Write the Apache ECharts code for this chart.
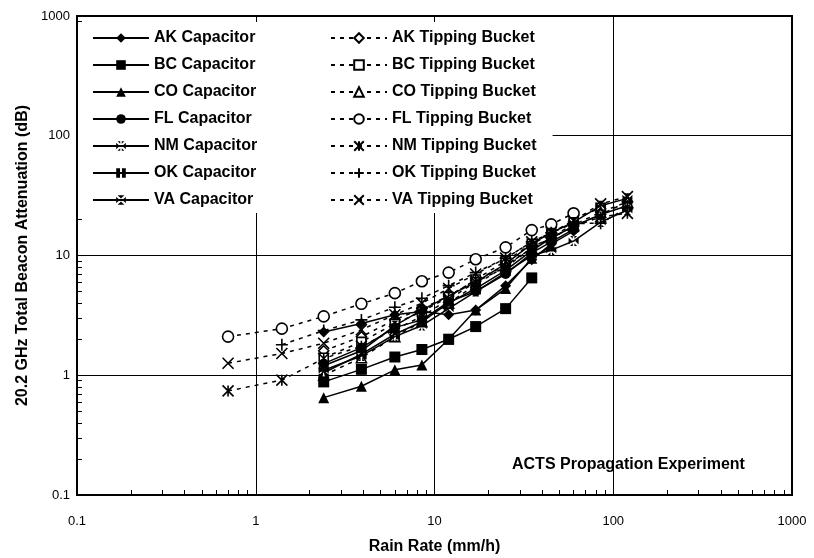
<!DOCTYPE html>
<html>
<head>
<meta charset="utf-8">
<script src="https://cdn.jsdelivr.net/npm/echarts@6/dist/echarts.min.js"></script>
<style>
  html, body { margin: 0; padding: 0; background: #fff; }
  #chart { width: 814px; height: 558px; }
</style>
</head>
<body>
<div id="chart"></div>
<script>
// rain rate bins (mm/h)
const rainRate = [0.7, 1.4, 2.4, 3.9, 6, 8.5, 12, 17, 25, 35, 45, 60, 85, 120];

// capacitor gauges (dB)
const akCap = [null, null, 2.3, 2.7, 3.2, 3.4, 3.2, 3.5, 5.6, 9.2, 12.5, 16, null, null];
const bcCap = [null, null, 0.88, 1.12, 1.42, 1.64, 2.0, 2.55, 3.6, 6.5, null, null, null, null];
const coCap = [null, null, 0.65, 0.81, 1.11, 1.22, 2.0, 3.5, 5.3, 9.5, 12, null, null, null];
const flCap = [null, null, 1.25, 1.7, 2.5, 2.9, 4.1, 5.0, 7.0, 10.5, 13, 16.5, null, null];
const nmCap = [null, null, 1.1, 1.45, 2.1, 2.6, 3.6, 5.0, 7.2, 10, 11.1, 13.2, 19, 24];
const okCap = [null, null, 1.05, 1.5, 2.2, 2.8, 4.0, 5.3, 7.5, 11, 14, 17.5, 22, 26];
const vaCap = [null, null, 1.2, 1.6, 2.6, 3.5, 4.6, 6.0, 8.5, 12.5, 15.5, 19, 26, 30];

// tipping bucket gauges (dB)
const akTb = [null, null, 1.6, 2.1, 2.9, 3.6, 4.6, 6.2, 8.3, 11.5, 14, 17.5, 22, 28];
const bcTb = [null, null, 1.4, 1.9, 2.7, 3.4, 4.5, 6.3, 9.0, 12.5, 15, 20, 25, null];
const coTb = [null, null, 1.0, 1.4, 2.1, 2.8, 4.0, 5.7, 8.2, 11.5, 14.5, 18, 23, 28];
const flTb = [2.1, 2.45, 3.1, 3.95, 4.85, 6.1, 7.2, 9.3, 11.7, 16.3, 18.2, 22.5, null, null];
const nmTb = [0.74, 0.91, 1.38, 1.75, 2.4, 3.1, 4.3, 6.0, 8.0, 11.5, 14, 17.5, 21, 22.5];
const okTb = [null, 1.8, 2.36, 2.9, 3.7, 4.4, 5.6, 7.2, 9.5, 13, 15.5, 18.5, 18.6, 25];
const vaTb = [1.26, 1.52, 1.85, 2.4, 3.2, 4.0, 5.3, 7.0, 9.5, 13, 15.5, 19.5, 27, 31];

const capNames = ['AK Capacitor', 'BC Capacitor', 'CO Capacitor', 'FL Capacitor', 'NM Capacitor', 'OK Capacitor', 'VA Capacitor'];
const tbNames = ['AK Tipping Bucket', 'BC Tipping Bucket', 'CO Tipping Bucket', 'FL Tipping Bucket', 'NM Tipping Bucket', 'OK Tipping Bucket', 'VA Tipping Bucket'];

const xMinor = [0.2,0.3,0.4,0.5,0.6,0.7,0.8,0.9, 2,3,4,5,6,7,8,9, 20,30,40,50,60,70,80,90, 200,300,400,500,600,700,800,900];
const yMinor = xMinor;

const font = 'Liberation Sans, Arial, sans-serif';

const pairs = vals => rainRate.map((x, i) => vals[i] == null ? null : [x, vals[i]]).filter(Boolean);

// marker shapes
const symOkCap = 'path://M0,0H4V4H0Z M6,0H10V4H6Z M0,6H4V10H0Z M6,6H10V10H6Z';
const symVaCap = 'path://M1.5,0L8.5,0L5,3.5Z M1.5,10L8.5,10L5,6.5Z M0,1.5L0,8.5L3.5,5Z M10,1.5L10,8.5L6.5,5Z';
const symNmCap = 'path://M1.5,0L4.2,0L4.2,2.7Z M5.8,0L8.5,0L5.8,2.7Z M1.5,10L4.2,10L4.2,7.3Z M5.8,10L8.5,10L5.8,7.3Z M0,1.5L0,8.5L3.5,5Z M10,1.5L10,8.5L6.5,5Z';
const symAst = 'path://M0,0L10,10M10,0L0,10M5,0L5,10';
const symPlus = 'path://M5,0L5,10M0,5L10,5';
const symX = 'path://M0,0L10,10M10,0L0,10';

function cap(name, vals, symbol, size) {
  return {
    name, type: 'line', data: pairs(vals), symbol, symbolSize: size,
    lineStyle: { color: '#000', width: 1.5, type: 'solid' },
    itemStyle: { color: '#000', borderWidth: 0 },
    z: 3
  };
}
function tb(name, vals, symbol, size, fill) {
  return {
    name, type: 'line', data: pairs(vals), symbol, symbolSize: size,
    lineStyle: { color: '#000', width: 1.5, type: [4, 5] },
    itemStyle: { color: fill, borderColor: '#000', borderWidth: 1.6 },
    z: 2
  };
}

const series = [
  cap(capNames[0], akCap, 'diamond', 11),
  cap(capNames[1], bcCap, 'rect', 11),
  cap(capNames[2], coCap, 'triangle', 11),
  cap(capNames[3], flCap, 'circle', 10),
  cap(capNames[4], nmCap, symNmCap, 10),
  cap(capNames[5], okCap, symOkCap, 10),
  cap(capNames[6], vaCap, symVaCap, 10),
  tb(tbNames[0], akTb, 'diamond', 10, '#fff'),
  tb(tbNames[1], bcTb, 'rect', 9, '#fff'),
  tb(tbNames[2], coTb, 'triangle', 10, '#fff'),
  tb(tbNames[3], flTb, 'circle', 11, '#fff'),
  tb(tbNames[4], nmTb, symAst, 11, 'none'),
  tb(tbNames[5], okTb, symPlus, 12, 'none'),
  tb(tbNames[6], vaTb, symX, 11, 'none')
];

const fmt = v => String(Number(v.toPrecision(3)));
const legendBase = {
  orient: 'vertical', top: 22, itemWidth: 56, itemHeight: 12, itemGap: 11,
  backgroundColor: '#fff',
  textStyle: { fontFamily: font, fontSize: 16, fontWeight: 'bold', color: '#000' }
};

const chart = echarts.init(document.getElementById('chart'), null, { renderer: 'canvas' });
chart.setOption({
  animation: false,
  backgroundColor: '#fff',
  title: {
    text: 'ACTS Propagation Experiment', left: 512, top: 457, padding: 0,
    textStyle: { fontFamily: font, fontSize: 16, fontWeight: 'bold', color: '#000' }
  },
  legend: [
    Object.assign({}, legendBase, { left: 78, padding: [8, 64, 5, 14], data: capNames }),
    Object.assign({}, legendBase, { left: 316, padding: [8, 16, 5, 14], data: tbNames })
  ],
  grid: {
    left: 77, right: 22, top: 16, bottom: 63, outerBoundsMode: 'none',
    show: true, borderColor: '#000', borderWidth: 2, backgroundColor: 'transparent'
  },
  xAxis: [{
    type: 'log', logBase: 10, min: 0.1, max: 1000,
    name: 'Rain Rate (mm/h)', nameLocation: 'middle', nameGap: 44,
    nameTextStyle: { fontFamily: font, fontSize: 16, fontWeight: 'bold', color: '#000' },
    axisLine: { lineStyle: { color: '#000', width: 2 } },
    axisTick: { show: false },
    axisLabel: { formatter: fmt, margin: 20, fontFamily: font, fontSize: 13, color: '#000' },
    splitLine: { show: true, lineStyle: { color: '#000', width: 1 } }
  }, {
    type: 'log', logBase: 10, min: 0.1, max: 1000, position: 'bottom',
    axisLine: { show: false }, axisLabel: { show: false }, splitLine: { show: false },
    axisTick: { show: true, inside: true, length: 5, customValues: xMinor, lineStyle: { color: '#000', width: 1 } }
  }],
  yAxis: [{
    type: 'log', logBase: 10, min: 0.1, max: 1000,
    name: '20.2 GHz Total Beacon Attenuation (dB)', nameLocation: 'middle', nameGap: 46,
    nameTextStyle: { fontFamily: font, fontSize: 16, fontWeight: 'bold', color: '#000' },
    axisLine: { lineStyle: { color: '#000', width: 2 } },
    axisTick: { show: false },
    axisLabel: { formatter: fmt, margin: 7, fontFamily: font, fontSize: 13, color: '#000' },
    splitLine: { show: true, lineStyle: { color: '#000', width: 1 } }
  }, {
    type: 'log', logBase: 10, min: 0.1, max: 1000, position: 'left',
    axisLine: { show: false }, axisLabel: { show: false }, splitLine: { show: false },
    axisTick: { show: true, inside: true, length: 5, customValues: yMinor, lineStyle: { color: '#000', width: 1 } }
  }],
  series
});
</script>
</body>
</html>
